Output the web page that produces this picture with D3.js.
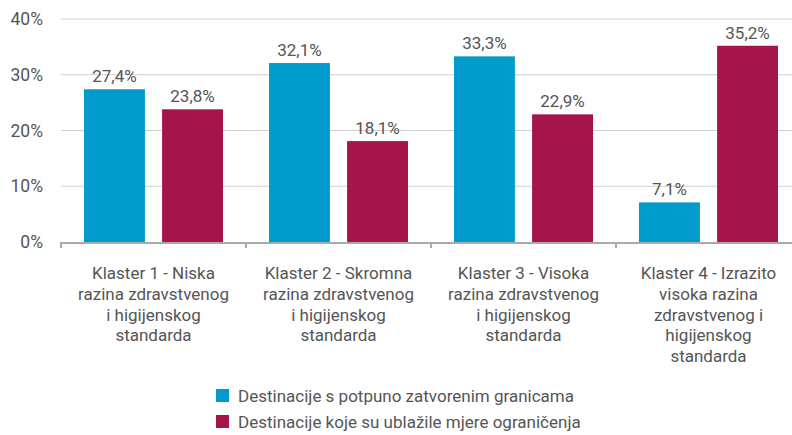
<!DOCTYPE html>
<html>
<head>
<meta charset="utf-8">
<script src="https://cdn.jsdelivr.net/npm/d3@7"></script>
<style>
  body { margin: 0; background: #fff; }
  text { font-family: Roboto, "DejaVu Sans", sans-serif; fill: #555; }
</style>
</head>
<body>
<div class="chart"></div>
<script>
var svgWidth = 792;
var svgHeight = 435;

// data
var categories = [
  ["Klaster 1 - Niska", "razina zdravstvenog", "i higijenskog", "standarda"],
  ["Klaster 2 - Skromna", "razina zdravstvenog", "i higijenskog", "standarda"],
  ["Klaster 3 - Visoka", "razina zdravstvenog", "i higijenskog", "standarda"],
  ["Klaster 4 - Izrazito", "visoka razina", "zdravstvenog i", "higijenskog", "standarda"]
];
var closedValues = [27.4, 32.1, 33.3, 7.1];
var easedValues = [23.8, 18.1, 22.9, 35.2];
var seriesNames = [
  "Destinacije s potpuno zatvorenim granicama",
  "Destinacije koje su ublažile mjere ograničenja"
];
var yTicks = [0, 10, 20, 30, 40];
var colors = ["#009bcb", "#a5154a"];

var plotBottom = 242;

var svg = d3.select(".chart")
  .append("svg")
  .attr("width", svgWidth)
  .attr("height", svgHeight);

var xScale = d3.scaleBand()
  .domain(d3.range(categories.length))
  .range([61, 801]);

var xSub = d3.scaleBand()
  .domain([0, 1])
  .range([23, 162])
  .paddingInner(0.22);

var yScale = d3.scaleLinear()
  .domain([0, 40])
  .range([plotBottom, 19]);

// gridlines
svg.append("g")
  .selectAll("line")
  .data(yTicks.filter(d => d > 0))
  .enter()
  .append("line")
  .attr("x1", 61)
  .attr("x2", svgWidth)
  .attr("y1", d => yScale(d))
  .attr("y2", d => yScale(d))
  .attr("stroke", "#cfcfcf")
  .attr("stroke-width", 1);

// y tick labels
svg.append("g")
  .selectAll("text")
  .data(yTicks)
  .enter()
  .append("text")
  .attr("x", 43)
  .attr("y", d => yScale(d))
  .attr("dy", "0.35em")
  .attr("text-anchor", "end")
  .style("font-size", "17.5px")
  .text(d => d + "%");

// bars
var series = [closedValues, easedValues];
series.forEach(function(values, s) {
  var g = svg.append("g");
  g.selectAll("rect")
    .data(values)
    .enter()
    .append("rect")
    .attr("x", (d, i) => xScale(i) + xSub(s))
    .attr("y", d => yScale(d))
    .attr("width", xSub.bandwidth())
    .attr("height", d => plotBottom - yScale(d))
    .attr("fill", colors[s]);

  g.selectAll("text")
    .data(values)
    .enter()
    .append("text")
    .attr("x", (d, i) => xScale(i) + xSub(s) + xSub.bandwidth() / 2)
    .attr("y", d => yScale(d) - 7)
    .attr("text-anchor", "middle")
    .style("font-size", "17px")
    .text(d => d.toFixed(1).replace(".", ",") + "%");
});

// x axis line and ticks
var axis = svg.append("g");
axis.append("line")
  .attr("x1", 60)
  .attr("x2", svgWidth)
  .attr("y1", plotBottom + 1)
  .attr("y2", plotBottom + 1)
  .attr("stroke", "#aaa")
  .attr("stroke-width", 2);

axis.selectAll(".tick")
  .data(d3.range(categories.length + 1))
  .enter()
  .append("line")
  .attr("x1", d => 61 + d * xScale.bandwidth())
  .attr("x2", d => 61 + d * xScale.bandwidth())
  .attr("y1", plotBottom)
  .attr("y2", plotBottom + 6)
  .attr("stroke", "#aaa")
  .attr("stroke-width", 2);

// category labels
var labels = svg.append("g")
  .selectAll("text")
  .data(categories)
  .enter()
  .append("text")
  .attr("text-anchor", "middle")
  .style("font-size", "17px")
  .attr("transform", (d, i) => `translate(${xScale(i) + xScale.bandwidth() / 2}, 279)`);

labels.selectAll("tspan")
  .data(d => d)
  .enter()
  .append("tspan")
  .attr("x", 0)
  .attr("y", (d, i) => i * 20.8)
  .text(d => d);

// legend
var legend = svg.append("g")
  .selectAll("g")
  .data(seriesNames)
  .enter()
  .append("g")
  .attr("transform", (d, i) => `translate(216, ${389 + i * 26})`);

legend.append("rect")
  .attr("width", 13)
  .attr("height", 13)
  .attr("fill", (d, i) => colors[i]);

legend.append("text")
  .attr("x", 22)
  .attr("y", 7)
  .attr("dy", "0.35em")
  .style("font-size", "17px")
  .text(d => d);
</script>
</body>
</html>
